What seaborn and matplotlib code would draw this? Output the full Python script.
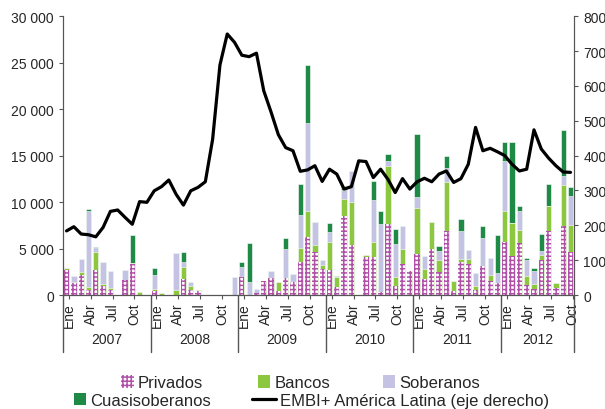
import matplotlib
matplotlib.use("Agg")
import matplotlib.pyplot as plt
import numpy as np
import pandas as pd
import seaborn as sns
from matplotlib.patches import Patch
from matplotlib.lines import Line2D
from matplotlib.ticker import FuncFormatter, MultipleLocator

# months: Ene 2007 .. Oct 2012
years = ["2007", "2008", "2009", "2010", "2011", "2012"]
months_per_year = [12, 12, 12, 12, 12, 10]
quarter_labels = ["Ene", "Abr", "Jul", "Oct"]

# emisiones (millones de US$)
privados = [2700, 1300, 2200, 500, 2700, 1000, 500, 0, 1600, 3300, 0, 0,
            400, 0, 0, 0, 1700, 570, 450, 0, 0, 0, 0, 0,
            1900, 0, 200, 1550, 1800, 450, 1800, 1350, 3600, 6200, 4600, 2800,
            2700, 820, 8450, 5400, 0, 4120, 4120, 280, 7640, 930, 3330, 2620,
            4450, 1700, 4950, 2500, 6900, 470, 3550, 3380, 570, 3080, 1540, 1280,
            5700, 4230, 5600, 1100, 600, 3800, 6920, 720, 7450, 4660]
bancos = [200, 100, 300, 400, 1900, 200, 300, 0, 0, 100, 300, 0,
          250, 200, 0, 500, 1300, 430, 80, 0, 0, 0, 0, 0,
          0, 0, 0, 0, 0, 1000, 0, 0, 1450, 2800, 800, 400,
          3000, 1080, 1900, 4620, 0, 180, 1620, 0, 6260, 1040, 1620, 0,
          4950, 1100, 2950, 1250, 5300, 1020, 320, 490, 400, 0, 610, 0,
          3300, 3570, 1400, 980, 600, 500, 2620, 570, 4380, 2870]
soberanos = [0, 700, 1400, 8100, 500, 2400, 1800, 0, 1100, 0, 0, 0,
             1550, 0, 0, 4000, 600, 360, 0, 0, 0, 0, 0, 1900,
             1100, 1350, 500, 0, 750, 0, 3150, 950, 3550, 9500, 2500, 600,
             1050, 0, 950, 3350, 0, 0, 4510, 7360, 540, 3530, 2500, 0,
             1150, 1350, 0, 980, 1500, 0, 3010, 1000, 1400, 3040, 1830, 1070,
             5450, 0, 2000, 1700, 1400, 470, 0, 0, 1000, 3080]
cuasisoberanos = [0, 0, 0, 300, 100, 0, 0, 0, 0, 3100, 0, 0,
                  700, 0, 0, 0, 1000, 0, 0, 0, 0, 0, 0, 0,
                  500, 4300, 0, 0, 0, 0, 1150, 0, 3300, 6200, 0, 0,
                  1000, 100, 450, 0, 0, 0, 2040, 1360, 710, 1600, 0, 0,
                  6750, 0, 0, 570, 1300, 0, 1260, 0, 0, 1260, 0, 4100,
                  2000, 8700, 540, 170, 300, 1790, 2400, 0, 4950, 970]
# EMBI+ América Latina (pb, eje derecho)
embi = [184, 196, 175, 173, 167, 194, 240, 244, 223, 203, 268, 266,
        299, 311, 330, 289, 258, 299, 309, 325, 447, 660, 749, 725,
        688, 684, 694, 586, 525, 460, 423, 414, 355, 359, 371, 326,
        361, 347, 304, 311, 385, 383, 337, 361, 332, 294, 334, 304,
        325, 335, 325, 347, 356, 323, 334, 375, 481, 414, 421, 411,
        400, 375, 356, 361, 474, 419, 393, 371, 353, 352]

c_priv = "#B050A8"
c_banc = "#8DC63F"
c_sob = "#C5C3E3"
c_cuasi = "#1F8A45"

n = len(privados)
df = pd.DataFrame({"mes": np.arange(n), "Privados": privados, "Bancos": bancos,
                   "Soberanos": soberanos, "Cuasisoberanos": cuasisoberanos,
                   "EMBI": embi})
df["c1"] = df["Privados"]
df["c2"] = df["c1"] + df["Bancos"]
df["c3"] = df["c2"] + df["Soberanos"]
df["c4"] = df["c3"] + df["Cuasisoberanos"]

sns.set_style("ticks")
plt.rcParams["font.family"] = ["Liberation Sans", "DejaVu Sans"]
plt.rcParams["hatch.linewidth"] = 1.1

fig, ax = plt.subplots(figsize=(6.05, 4.1), dpi=100)
fig.subplots_adjust(left=0.104, right=0.949, top=0.958, bottom=0.278)

bw = 0.72
for col, color in [("c4", c_cuasi), ("c3", c_sob), ("c2", c_banc)]:
    sns.barplot(data=df, x="mes", y=col, color=color, saturation=1, width=bw,
                edgecolor="white", linewidth=0.4, errorbar=None, ax=ax)
sns.barplot(data=df, x="mes", y="c1", color="white", saturation=1, width=bw,
            edgecolor=c_priv, hatch="++++", linewidth=0, errorbar=None, ax=ax)

ax2 = ax.twinx()
sns.lineplot(data=df, x="mes", y="EMBI", color="black", linewidth=2.3, ax=ax2)

ax.set_xlim(-0.5, n - 0.5)
ax.set_ylim(0, 30000)
ax2.set_ylim(0, 800)
ax.yaxis.set_major_locator(MultipleLocator(5000))
ax.yaxis.set_major_formatter(FuncFormatter(lambda v, p: f"{int(v):,}".replace(",", " ")))
ax2.yaxis.set_major_locator(MultipleLocator(100))
for a in (ax, ax2):
    a.set_xlabel("")
    a.set_ylabel("")
    a.spines["top"].set_visible(False)
    for s in ("left", "right", "bottom"):
        a.spines[s].set_color("#555555")
    a.tick_params(axis="y", labelsize=10, length=3, color="#555555")

# quarter ticks
starts = np.cumsum([0] + months_per_year)
pos, labs = [], []
for s, m in zip(starts[:-1], months_per_year):
    for k, lab in enumerate(quarter_labels):
        if k * 3 < m:
            pos.append(s + k * 3 + 0.3)
            labs.append(lab)
ax.set_xticks(pos)
ax.set_xticklabels(labs, rotation=90, fontsize=10)
ax.tick_params(axis="x", length=3, color="#555555", pad=2)

trans = ax.get_xaxis_transform()
for b in starts - 0.5:
    ax.plot([b, b], [0, -0.205], transform=trans, color="#555555", lw=1, clip_on=False)
for yr, a0, a1 in zip(years, starts[:-1] - 0.5, starts[1:] - 0.5):
    ax.text((a0 + a1) / 2, -0.158, yr, transform=trans, ha="center", va="center", fontsize=10)


def legend_item(handle, label, x, y, hl):
    leg = fig.legend(handles=[handle], labels=[label], loc="center left",
                     bbox_to_anchor=(x, y), frameon=False, fontsize=12,
                     handlelength=hl, handleheight=0.75, handletextpad=0.25,
                     borderpad=0, borderaxespad=0)
    return leg


legend_item(Patch(facecolor="white", edgecolor=c_priv, hatch="++++", lw=0), "Privados", 0.200, 0.064, 0.75)
legend_item(Patch(facecolor=c_banc, lw=0), "Bancos", 0.426, 0.064, 0.75)
legend_item(Patch(facecolor=c_sob, lw=0), "Soberanos", 0.633, 0.064, 0.75)
legend_item(Patch(facecolor=c_cuasi, lw=0), "Cuasisoberanos", 0.122, 0.021, 0.75)
legend_item(Line2D([], [], color="black", lw=2.3), "EMBI+ América Latina (eje derecho)", 0.416, 0.021, 1.45)

plt.savefig("out.png", dpi=100)
